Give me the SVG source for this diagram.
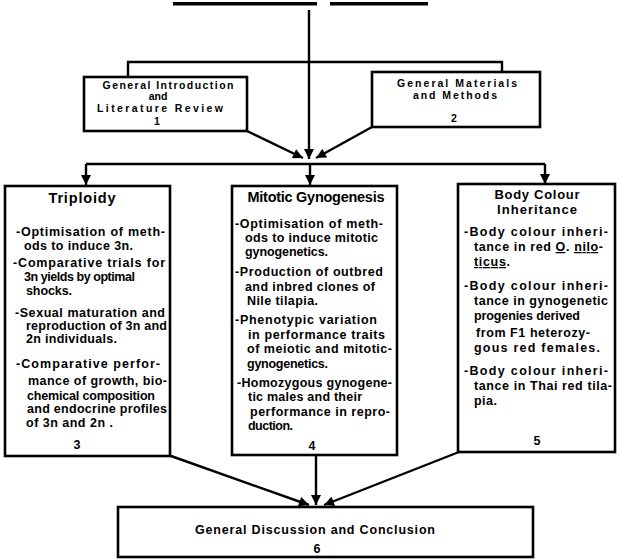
<svg xmlns="http://www.w3.org/2000/svg" width="622" height="560" viewBox="0 0 622 560">
<style>
  text { font-family: "Liberation Sans", Arial, sans-serif; font-weight: bold; fill: #000; }
  .b { font-size: 12.5px; }
  .s { font-size: 10.5px; }
  .h { font-size: 14.5px; }
  .h2 { font-size: 13px; }
  .box { fill: #fff; stroke: #000; stroke-width: 2.6; }
  .ln { fill: none; stroke: #000; stroke-width: 2.4; }
  .u { text-decoration: underline; }
</style>
<defs>
  <marker id="ah" viewBox="0 0 10 10" refX="10" refY="5" markerWidth="11" markerHeight="10" markerUnits="userSpaceOnUse" orient="auto">
    <path d="M0,0 L10,5 L0,10 z" fill="#000"/>
  </marker>
</defs>
<rect width="622" height="560" fill="#fff"/>
<g id="title-underline">
  <rect x="173" y="2" width="144" height="3.5" fill="#000"/>
  <rect x="330" y="2" width="98" height="3.5" fill="#000"/>
</g>
<g id="connectors">
  <path class="ln" d="M309,10 V62"/>
  <path class="ln" d="M128,77 V62 H502 V72"/>
  <path class="ln" d="M309,62 V159" marker-end="url(#ah)"/>
  <path class="ln" d="M247,131 L303,158" marker-end="url(#ah)"/>
  <path class="ln" d="M372,127 L316,158" marker-end="url(#ah)"/>
  <path class="ln" d="M86,164 H545"/>
  <path class="ln" d="M86,164 V185" marker-end="url(#ah)"/>
  <path class="ln" d="M310,164 V185" marker-end="url(#ah)"/>
  <path class="ln" d="M545,164 V184" marker-end="url(#ah)"/>
  <path class="ln" d="M171,456 L309,505" marker-end="url(#ah)"/>
  <path class="ln" d="M316,455 V505" marker-end="url(#ah)"/>
  <path class="ln" d="M459,452 L324,505" marker-end="url(#ah)"/>
</g>
<g id="node1">
  <rect class="box" x="84" y="77" width="163" height="54"/>
  <text class="s" x="168" y="88.5" text-anchor="middle" textLength="131" lengthAdjust="spacing">General Introduction</text>
  <text class="s" x="158" y="100" text-anchor="middle">and</text>
  <text class="s" x="160" y="111.5" text-anchor="middle" textLength="126" lengthAdjust="spacing">Literature  Review</text>
  <text class="s" x="157" y="125" text-anchor="middle">1</text>
</g>
<g id="node2">
  <rect class="box" x="372" y="72" width="168" height="55"/>
  <text class="s" x="457" y="87" text-anchor="middle" textLength="120" lengthAdjust="spacing">General  Materials</text>
  <text class="s" x="455" y="99" text-anchor="middle" textLength="84" lengthAdjust="spacing">and Methods</text>
  <text class="s" x="454" y="122" text-anchor="middle">2</text>
</g>
<g id="node3">
  <rect class="box" x="5" y="186" width="165" height="270"/>
  <text class="h" x="82" y="203" text-anchor="middle" textLength="67" lengthAdjust="spacing">Triploidy</text>
  <text class="b" x="16" y="236" textLength="149" lengthAdjust="spacing">-Optimisation of meth-</text>
  <text class="b" x="24" y="250" textLength="109" lengthAdjust="spacing">ods to induce 3n.</text>
  <text class="b" x="13" y="267" textLength="152" lengthAdjust="spacing">-Comparative trials for</text>
  <text class="b" x="24" y="281" textLength="111" lengthAdjust="spacing">3n yields by optimal</text>
  <text class="b" x="26" y="295" textLength="46" lengthAdjust="spacing">shocks.</text>
  <text class="b" x="15" y="317" textLength="150" lengthAdjust="spacing">-Sexual maturation and</text>
  <text class="b" x="26" y="330" textLength="141" lengthAdjust="spacing">reproduction of 3n and</text>
  <text class="b" x="26" y="343" textLength="91" lengthAdjust="spacing">2n individuals.</text>
  <text class="b" x="16" y="368" textLength="144" lengthAdjust="spacing">-Comparative perfor-</text>
  <text class="b" x="28" y="385" textLength="139" lengthAdjust="spacing">mance of growth, bio-</text>
  <text class="b" x="27" y="400" textLength="128" lengthAdjust="spacing">chemical composition</text>
  <text class="b" x="27" y="413" textLength="140" lengthAdjust="spacing">and endocrine profiles</text>
  <text class="b" x="26" y="427" textLength="87" lengthAdjust="spacing">of 3n and 2n .</text>
  <text class="b" x="77" y="449" text-anchor="middle">3</text>
</g>
<g id="node4">
  <rect class="box" x="232" y="186" width="165" height="269"/>
  <text class="h" x="316" y="202" text-anchor="middle" textLength="137" lengthAdjust="spacing">Mitotic Gynogenesis</text>
  <text class="b" x="235" y="228" textLength="148" lengthAdjust="spacing">-Optimisation of meth-</text>
  <text class="b" x="245" y="242" textLength="133" lengthAdjust="spacing">ods to induce mitotic</text>
  <text class="b" x="245" y="256" textLength="83" lengthAdjust="spacing">gynogenetics.</text>
  <text class="b" x="235" y="276" textLength="148" lengthAdjust="spacing">-Production of outbred</text>
  <text class="b" x="245" y="291" textLength="130" lengthAdjust="spacing">and inbred clones of</text>
  <text class="b" x="247" y="305" textLength="71" lengthAdjust="spacing">Nile tilapia.</text>
  <text class="b" x="235" y="324" textLength="142" lengthAdjust="spacing">-Phenotypic variation</text>
  <text class="b" x="248" y="339" textLength="137" lengthAdjust="spacing">in performance traits</text>
  <text class="b" x="247" y="353" textLength="145" lengthAdjust="spacing">of meiotic and mitotic-</text>
  <text class="b" x="247" y="368" textLength="81" lengthAdjust="spacing">gynogenetics.</text>
  <text class="b" x="237" y="387" textLength="155" lengthAdjust="spacing">-Homozygous gynogene-</text>
  <text class="b" x="248" y="401" textLength="114" lengthAdjust="spacing">tic males and their</text>
  <text class="b" x="250" y="416" textLength="140" lengthAdjust="spacing">performance in repro-</text>
  <text class="b" x="248" y="430" textLength="45" lengthAdjust="spacing">duction.</text>
  <text class="b" x="312" y="450" text-anchor="middle">4</text>
</g>
<g id="node5">
  <rect class="box" x="458" y="184" width="157" height="268"/>
  <text class="h2" x="537" y="198.5" text-anchor="middle" textLength="85" lengthAdjust="spacing">Body Colour</text>
  <text class="h2" x="537" y="213.5" text-anchor="middle" textLength="80" lengthAdjust="spacing">Inheritance</text>
  <text class="b" x="464" y="236" textLength="144" lengthAdjust="spacing">-Body colour inheri-</text>
  <text class="b" x="474" y="251" textLength="129" lengthAdjust="spacing">tance in red <tspan class="u">O</tspan>. <tspan class="u">nilo</tspan>-</text>
  <text class="b" x="474" y="266" textLength="36" lengthAdjust="spacing"><tspan class="u">ticus</tspan>.</text>
  <text class="b" x="464" y="290" textLength="144" lengthAdjust="spacing">-Body colour inheri-</text>
  <text class="b" x="474" y="305" textLength="134" lengthAdjust="spacing">tance in gynogenetic</text>
  <text class="b" x="474" y="320" textLength="106" lengthAdjust="spacing">progenies derived</text>
  <text class="b" x="476" y="337" textLength="114" lengthAdjust="spacing">from F1 heterozy-</text>
  <text class="b" x="474" y="352" textLength="126" lengthAdjust="spacing">gous red females.</text>
  <text class="b" x="464" y="375" textLength="144" lengthAdjust="spacing">-Body colour inheri-</text>
  <text class="b" x="474" y="390" textLength="138" lengthAdjust="spacing">tance in Thai red tila-</text>
  <text class="b" x="474" y="405" textLength="23" lengthAdjust="spacing">pia.</text>
  <text class="b" x="537" y="445" text-anchor="middle">5</text>
</g>
<g id="node6">
  <rect class="box" x="118" y="507" width="415" height="50"/>
  <text class="b" x="315" y="534" text-anchor="middle" textLength="240" lengthAdjust="spacing">General Discussion and Conclusion</text>
  <text class="b" x="317" y="553" text-anchor="middle">6</text>
</g>
</svg>
